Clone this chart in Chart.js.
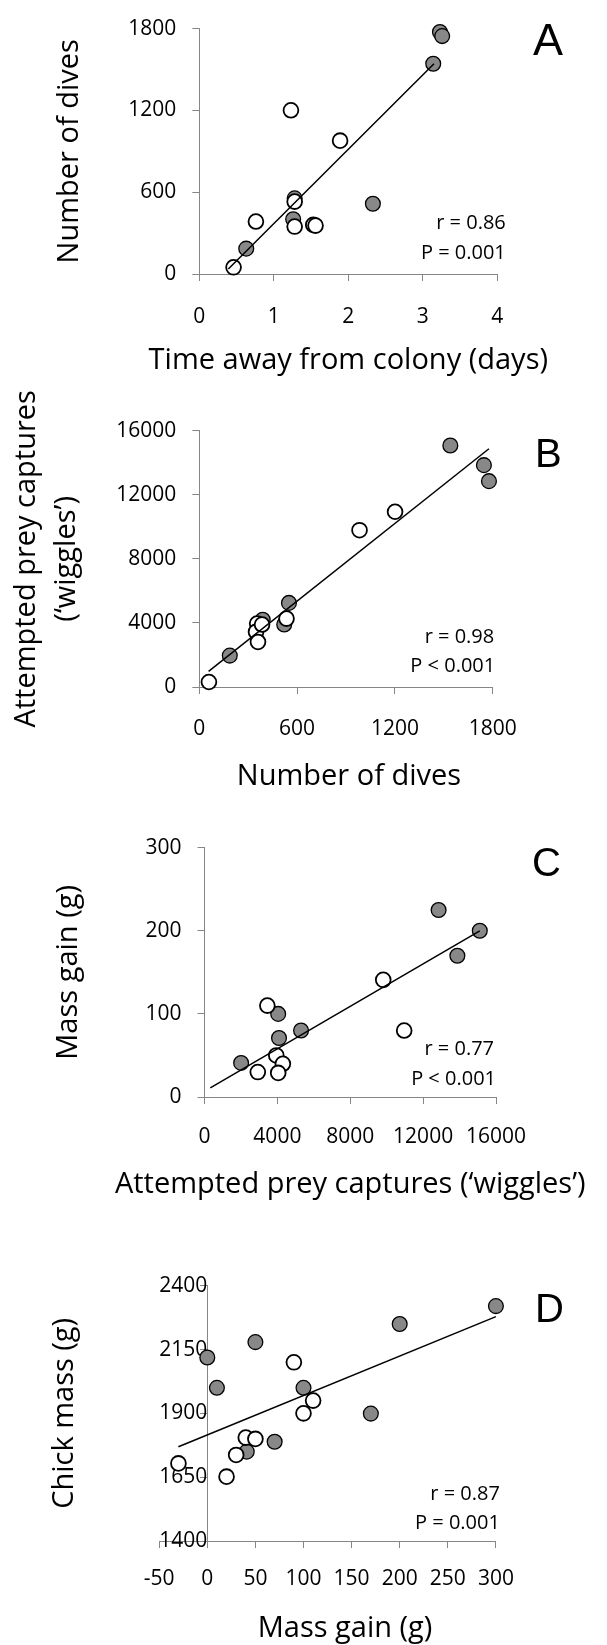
<!DOCTYPE html>
<html>
<head>
<meta charset="utf-8">
<title>Dives, wiggles and mass gain</title>
<script src="https://cdn.jsdelivr.net/npm/chart.js@4.4.1/dist/chart.umd.min.js"></script>
<style>
  html, body { margin: 0; padding: 0; background: #fff; overflow: hidden; }
  #page { position: relative; width: 607px; height: 1645px; }
  .panel { position: absolute; left: 0; width: 607px; }
</style>
</head>
<body>
<div id="page">
  <div class="panel" style="top:0;height:380px"><canvas id="chartA"></canvas></div>
  <div class="panel" style="top:380px;height:413px"><canvas id="chartB"></canvas></div>
  <div class="panel" style="top:795px;height:408px"><canvas id="chartC"></canvas></div>
  <div class="panel" style="top:1205px;height:442px"><canvas id="chartD"></canvas></div>
</div>
<script>
// A : time away vs number of dives
const aFilledX = [3.23, 3.26, 3.14, 2.33, 0.63, 1.26, 1.28];
const aFilledY = [1775, 1745, 1542, 515, 186, 402, 555];
const aOpenX = [0.46, 0.76, 1.23, 1.89, 1.28, 1.28, 1.53, 1.56];
const aOpenY = [49, 385, 1201, 978, 531, 348, 360, 355];
const aFitX = [0.39, 3.15];
const aFitY = [37, 1542];

// B : number of dives vs wiggles
const bFilledX = [1540, 1746, 1777, 550, 521, 389, 187];
const bFilledY = [15080, 13850, 12850, 5250, 3900, 4200, 1960];
const bOpenX = [59, 1201, 983, 535, 355, 348, 360, 385];
const bOpenY = [312, 10940, 9790, 4270, 3960, 3440, 2810, 3900];
const bFitX = [57, 1777];
const bFitY = [975, 14875];

// C : wiggles vs mass gain
const cFilledX = [12850, 15110, 13880, 5300, 4045, 4090, 2010];
const cFilledY = [225, 200, 170, 80, 100, 71, 41];
const cOpenX = [9810, 10960, 3450, 3940, 4300, 4045, 2925];
const cOpenY = [141, 80, 110, 50, 40, 29, 30];
const cFitX = [318, 15110];
const cFitY = [11, 200];

// D : mass gain vs chick mass
const dFilledX = [300, 200, 50, 0, 10, 100, 170, 70, 41];
const dFilledY = [2320, 2250, 2179, 2119, 2000, 2000, 1899, 1789, 1750];
const dOpenX = [90, 110, 100, 40, 50, 30, -30, 20];
const dOpenY = [2100, 1950, 1900, 1805, 1800, 1737, 1704, 1652];
const dFitX = [-30, 300];
const dFitY = [1769, 2279];

const axisGray = "#868686";
const fontFamily = '"Open Sans", Lato, sans-serif';
const tickFont = { family: fontFamily, size: 21, lineHeight: 1.2 };
const titleFont = { family: fontFamily, size: 29, lineHeight: 1.2 };

const pts = (xs, ys) => xs.map((x, i) => ({ x: x, y: ys[i] }));

// x title, panel letter and r / P text, placed from the plot area
const panelText = {
  id: "panelText",
  afterDraw(chart, args, o) {
    const { ctx, chartArea: a } = chart;
    ctx.save();
    ctx.fillStyle = "#000";
    ctx.textBaseline = "alphabetic";

    ctx.textAlign = "center";
    ctx.font = titleFont.size + "px " + fontFamily;
    ctx.fillText(o.xTitle, (a.left + a.right) / 2 + o.xTitleDx, a.bottom + o.xTitleDy);

    ctx.textAlign = "left";
    ctx.font = o.letterSize + 'px "Liberation Sans", Arial, sans-serif';
    ctx.fillText(o.letter, a.right + o.letterDx, a.top + o.letterDy);

    ctx.textAlign = "right";
    ctx.font = "20px " + fontFamily;
    ctx.fillText(o.stats[0], a.right + o.statDx[0], a.bottom - o.statDy[0]);
    ctx.fillText(o.stats[1], a.right + o.statDx[1], a.bottom - o.statDy[1]);
    ctx.restore();
  }
};

function datasets(filledX, filledY, openX, openY, fitX, fitY) {
  return [
    {
      data: pts(fitX, fitY), showLine: true, borderColor: "#000", borderWidth: 1.5,
      pointRadius: 0, clip: false, yAxisID: "y"
    },
    {
      data: pts(openX, openY), backgroundColor: "#fff", borderColor: "#000",
      borderWidth: 1.8, pointRadius: 7.4, clip: false, yAxisID: "y"
    },
    {
      data: pts(filledX, filledY), backgroundColor: "#888888", borderColor: "#000",
      borderWidth: 1.3, pointRadius: 7.4, clip: false, yAxisID: "y"
    }
  ];
}

function xAxis(min, max, step, tickPad) {
  return {
    type: "linear", position: "bottom", min: min, max: max,
    ticks: { stepSize: step, color: "#000", font: tickFont, padding: tickPad, maxRotation: 0, autoSkip: false, callback: v => String(v) },
    grid: { drawOnChartArea: false, drawTicks: true, tickLength: 7, color: axisGray, tickColor: axisGray },
    border: { display: true, color: axisGray, width: 1 },
    title: { display: false },
    afterFit: s => { s.height = 106; }
  };
}

function yAxis(min, max, step, title, width, titlePad, lineHeight) {
  return {
    type: "linear", position: "left", min: min, max: max,
    ticks: { stepSize: step, color: "#000", font: tickFont, padding: 16, callback: v => String(v) },
    grid: { drawOnChartArea: false, drawTicks: true, tickLength: 7, color: axisGray, tickColor: axisGray },
    border: { display: true, color: axisGray, width: 1 },
    title: { display: true, text: title, color: "#000", font: Object.assign({}, titleFont, { lineHeight: lineHeight || 1.2 }), padding: { top: titlePad, bottom: 0 } },
    afterFit: s => { s.width = width; }
  };
}

function baseOptions(padTop, padRight, scales, text) {
  return {
    responsive: true,
    maintainAspectRatio: false,
    animation: false,
    events: [],
    layout: { padding: { top: padTop, right: padRight, bottom: 0, left: 0 } },
    scales: scales,
    plugins: { legend: { display: false }, tooltip: { enabled: false }, panelText: text }
  };
}

if (typeof Chart !== "undefined") {
  new Chart(document.getElementById("chartA"), {
    type: "scatter",
    data: { datasets: datasets(aFilledX, aFilledY, aOpenX, aOpenY, aFitX, aFitY) },
    options: baseOptions(21.7, 109.7, {
      x: xAxis(0, 4, 1, 23.4),
      y: yAxis(0, 1800, 600, "Number of dives", 199.3, 52.6)
    }, {
      xTitle: "Time away from colony (days)", xTitleDx: 0, xTitleDy: 94.7,
      letter: "A", letterSize: 45, letterDx: 35.7, letterDy: 26.3,
      stats: ["r = 0.86", "P = 0.001"], statDx: [8.5, 8.5], statDy: [45, 15]
    }),
    plugins: [panelText]
  });

  new Chart(document.getElementById("chartB"), {
    type: "scatter",
    data: { datasets: datasets(bFilledX, bFilledY, bOpenX, bOpenY, bFitX, bFitY) },
    options: baseOptions(50.7, 114.3, {
      x: xAxis(0, 1800, 600, 22.3),
      y: yAxis(0, 16000, 4000, ["Attempted prey captures", "(\u2018wiggles\u2019)"], 199.3, 6.2, 1.4)
    }, {
      xTitle: "Number of dives", xTitleDx: 3, xTitleDy: 97.7,
      letter: "B", letterSize: 40, letterDx: 42.3, letterDy: 36.3,
      stats: ["r = 0.98", "P < 0.001"], statDx: [1.5, 2.5], statDy: [44, 15]
    }),
    plugins: [panelText]
  });

  new Chart(document.getElementById("chartC"), {
    type: "scatter",
    data: { datasets: datasets(cFilledX, cFilledY, cOpenX, cOpenY, cFitX, cFitY) },
    options: baseOptions(52.7, 111, {
      x: xAxis(0, 16000, 4000, 20.6),
      y: yAxis(0, 300, 100, "Mass gain (g)", 204.5, 51.6)
    }, {
      xTitle: "Attempted prey captures (\u2018wiggles\u2019)", xTitleDx: 0, xTitleDy: 96,
      letter: "C", letterSize: 40, letterDx: 36, letterDy: 28.5,
      stats: ["r = 0.77", "P < 0.001"], statDx: [-2, 0], statDy: [41.6, 12.3]
    }),
    plugins: [panelText]
  });

  // D : y axis crosses at mass gain = 0, its title sits on a bare left axis
  const dY = yAxis(1400, 2400, 250, "", 0, 0);
  dY.position = { x: 0 };
  dY.ticks.padding = 17;
  dY.title = { display: false };
  delete dY.afterFit;
  const dTitle = {
    type: "linear", position: "left", display: true,
    ticks: { display: false }, grid: { display: false }, border: { display: false },
    title: { display: true, text: "Chick mass (g)", color: "#000", font: titleFont, padding: { top: 47.6, bottom: 0 } },
    afterFit: s => { s.width = 159.2; }
  };
  new Chart(document.getElementById("chartD"), {
    type: "scatter",
    data: { datasets: datasets(dFilledX, dFilledY, dOpenX, dOpenY, dFitX, dFitY) },
    options: baseOptions(80.7, 111.1, {
      x: xAxis(-50, 300, 50, 18.6),
      y: dY,
      yt: dTitle
    }, {
      xTitle: "Mass gain (g)", xTitleDx: 17.5, xTitleDy: 95.7,
      letter: "D", letterSize: 40, letterDx: 39, letterDy: 36.3,
      stats: ["r = 0.87", "P = 0.001"], statDx: [4, 4], statDy: [41, 12]
    }),
    plugins: [panelText]
  });
} else {
  console.warn("Chart.js not loaded");
}
</script>
</body>
</html>
